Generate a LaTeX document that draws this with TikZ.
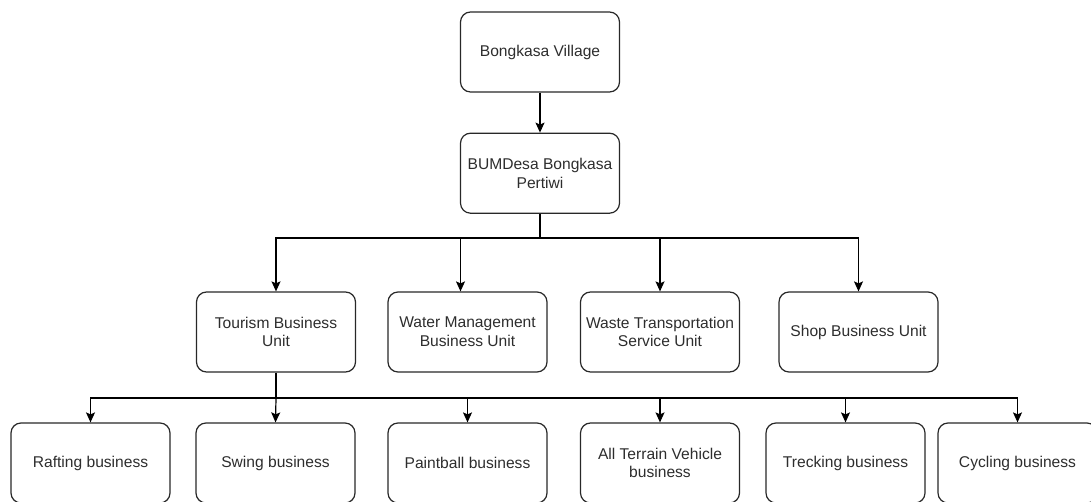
\documentclass[tikz,border=0pt]{standalone}
\usepackage{fontspec}
\setmainfont{Liberation Sans}
\usepackage{tikz}
\usetikzlibrary{arrows.meta, positioning}
\definecolor{boxline}{RGB}{40, 40, 40}
\definecolor{boxtext}{RGB}{45, 45, 45}
\tikzset{
    block/.style={rectangle, draw=boxline, line width=1.2pt, rounded corners=10pt, minimum width=159pt, minimum height=80pt, inner sep=2pt, align=center, text=boxtext, font=\fontsize{15.6}{18.7}\selectfont},
    line/.style={draw=black, line width=1.2pt, -{Stealth[length=10pt, width=9pt, inset=2pt]}}
}
\begin{document}
\begin{tikzpicture}[x=1pt, y=1pt]
    \useasboundingbox (0,0) rectangle (1091,502);

    \node[block] (village) at (540,450) {Bongkasa Village};
    \node[block, below=40pt of village] (bumdesa) {BUMDesa Bongkasa\\Pertiwi};

    % business units
    \node[block] (tourism) at (276,170) {Tourism Business\\Unit};
    \node[block] (water) at (467.5,170) {Water Management\\Business Unit};
    \node[block] (waste) at (660,170) {Waste Transportation\\Service Unit};
    \node[block] (shop) at (858.5,170) {Shop Business Unit};

    % tourism businesses
    \node[block] (rafting) at (90.5,39) {Rafting business};
    \node[block] (swing) at (275.5,39) {Swing business};
    \node[block] (paintball) at (467.5,39) {Paintball business};
    \node[block] (atv) at (660,39) {All Terrain Vehicle\\business};
    \node[block] (trecking) at (845.5,39) {Trecking business};
    \node[block] (cycling) at (1017.5,39) {Cycling business};

    \coordinate (unitbus) at (540,264);
    \coordinate (tourbus) at (276,104);

    \draw[line] (village) -- (bumdesa);

    \draw[line] (bumdesa.south) |- (unitbus) -| (tourism.north);
    \draw[line] (unitbus) -| ([xshift=-7pt]water.north);
    \draw[line] (unitbus) -| (waste.north);
    \draw[line] (unitbus) -| (shop.north);

    \draw[line] (tourism.south) |- (tourbus) -| (rafting.north);
    \draw[line] (tourbus) -- (swing.north);
    \draw[line] (tourbus) -| (paintball.north);
    \draw[line] (tourbus) -| (atv.north);
    \draw[line] (tourbus) -| (trecking.north);
    \draw[line] (tourbus) -| (cycling.north);
\end{tikzpicture}
\end{document}
